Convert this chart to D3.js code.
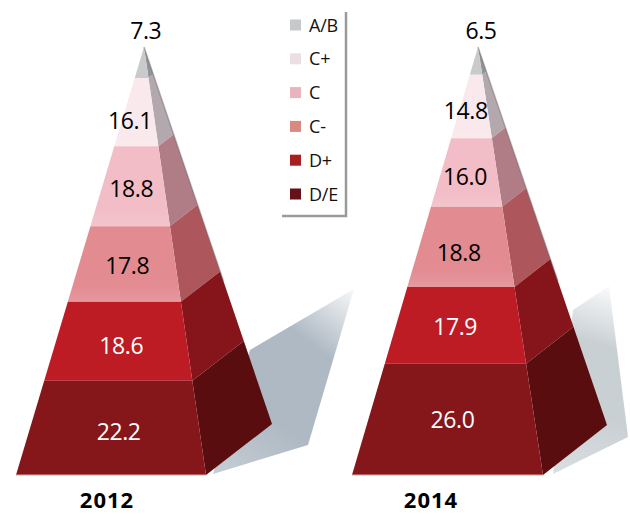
<!DOCTYPE html>
<html>
<head>
<meta charset="utf-8">
<script src="https://cdn.jsdelivr.net/npm/d3@7"></script>
<style>
  html, body { margin: 0; padding: 0; background: #fff; }
  text { font-family: "Open Sans", "Noto Sans", sans-serif; }
</style>
</head>
<body>
<div id="chart"></div>
<script>
const grades = ["A/B", "C+", "C", "C-", "D+", "D/E"];
const values2012 = [7.3, 16.1, 18.8, 17.8, 18.6, 22.2];
const values2014 = [6.5, 14.8, 16.0, 18.8, 17.9, 26.0];

const frontColors = ["#c8cacb", "#f9e8ec", "#f2bdc6", "#e28b91", "#bd1c25", "#85171b"];
const sideColors = ["#8f9498", "#b2a8ad", "#b07c85", "#ad575d", "#85151a", "#590d0e"];
const legendColors = ["#c6c8c9", "#ecdfe3", "#e9b4bd", "#d98a80", "#a5201f", "#641218"];
const labelColors = ["#000", "#000", "#000", "#000", "#fff", "#fff"];

const canvasWidth = 630;
const canvasHeight = 514;

// outline of each pyramid, and hand nudges for the value labels
const pyramids = [
  {
    year: "2012", values: values2012, yearX: 107,
    apex: [144, 47], left: [16, 475], right: [206, 475], back: [272, 424],
    shadow: [[213, 474], [308, 445], [354, 289], [250, 350]],
    shadowColor: "#aeb9c3",
    nudge: [[3, -8], [-9, 17], [-2, 11], [0, 10], [0, 13], [4, 12]]
  },
  {
    year: "2014", values: values2014, yearX: 431,
    apex: [478, 47], left: [352, 475], right: [543, 475], back: [607, 425],
    shadow: [[553, 474], [628, 437], [609, 286], [573, 310]],
    shadowColor: "#c9d0d4",
    nudge: [[4, -8], [-8, 13], [-4, 13], [-5, 14], [-3, 10], [1, 9]]
  }
];

const svg = d3.select("#chart")
  .append("svg")
  .attr("width", canvasWidth)
  .attr("height", canvasHeight);

const defs = svg.append("defs");

defs.append("filter").attr("id", "soft")
  .append("feGaussianBlur").attr("stdDeviation", 0.5);

// lighter strip at the foot of the pale front bands
const sheen = defs.append("linearGradient").attr("id", "sheen")
  .attr("x1", 0).attr("y1", 0).attr("x2", 0).attr("y2", 1);
sheen.append("stop").attr("offset", "78%").attr("stop-color", "#fff").attr("stop-opacity", 0);
sheen.append("stop").attr("offset", "100%").attr("stop-color", "#fff").attr("stop-opacity", 0.12);

const line = d3.line();

pyramids.forEach((p, i) => {
  const g = svg.append("g");

  // shadow fades out to the top right
  const gradId = "shade" + i;
  const grad = defs.append("linearGradient").attr("id", gradId)
    .attr("gradientUnits", "userSpaceOnUse")
    .attr("x1", p.shadow[0][0]).attr("y1", p.shadow[0][1])
    .attr("x2", p.shadow[2][0]).attr("y2", p.shadow[2][1]);
  grad.append("stop").attr("offset", "0%").attr("stop-color", p.shadowColor).attr("stop-opacity", 0.7);
  grad.append("stop").attr("offset", "35%").attr("stop-color", p.shadowColor);
  grad.append("stop").attr("offset", "70%").attr("stop-color", p.shadowColor);
  grad.append("stop").attr("offset", "100%").attr("stop-color", p.shadowColor).attr("stop-opacity", 0.1);

  g.append("path")
    .attr("d", line(p.shadow) + "Z")
    .attr("fill", `url(#${gradId})`)
    .attr("filter", "url(#soft)");

  const total = d3.sum(p.values);
  const share = d3.scaleLinear().domain([0, total]).range([0, 1]);
  // array ranges reuse the output array, so keep one scale per coordinate
  const edge = (end) => {
    const ex = d3.scaleLinear().domain([0, 1]).range([p.apex[0], end[0]]);
    const ey = d3.scaleLinear().domain([0, 1]).range([p.apex[1], end[1]]);
    return t => [ex(t), ey(t)];
  };
  const leftEdge = edge(p.left);
  const rightEdge = edge(p.right);
  const backEdge = edge(p.back);

  const cumulative = d3.cumsum(p.values);
  const bands = p.values.map((v, j) => ({
    value: v,
    index: j,
    t0: share(cumulative[j] - v),
    t1: share(cumulative[j])
  }));

  g.selectAll(".side")
    .data(bands)
    .enter()
    .append("path")
    .attr("class", "side")
    .attr("d", d => line([rightEdge(d.t0), backEdge(d.t0), backEdge(d.t1), rightEdge(d.t1)]) + "Z")
    .attr("fill", d => sideColors[d.index]);

  g.selectAll(".front")
    .data(bands)
    .enter()
    .append("path")
    .attr("class", "front")
    .attr("d", d => line([leftEdge(d.t0), rightEdge(d.t0), rightEdge(d.t1), leftEdge(d.t1)]) + "Z")
    .attr("fill", d => frontColors[d.index]);

  g.selectAll(".sheen")
    .data(bands.slice(1, 4))
    .enter()
    .append("path")
    .attr("class", "sheen")
    .attr("d", d => line([leftEdge(d.t0), rightEdge(d.t0), rightEdge(d.t1), leftEdge(d.t1)]) + "Z")
    .attr("fill", "url(#sheen)");

  // dark outer edge of the side face
  g.append("path")
    .attr("d", line([p.apex, backEdge(0.62)]))
    .attr("stroke", "#6d6266")
    .attr("stroke-opacity", 0.45)
    .attr("stroke-width", 1.5)
    .attr("fill", "none");

  // pale line along the base
  g.append("path")
    .attr("d", line([p.left, p.right]))
    .attr("stroke", "#e3a6a6")
    .attr("stroke-width", 1.2);

  g.selectAll(".value")
    .data(bands)
    .enter()
    .append("text")
    .attr("class", "value")
    .attr("x", d => {
      const mid = (d.t0 + d.t1) / 2;
      return (leftEdge(mid)[0] + rightEdge(mid)[0]) / 2 + p.nudge[d.index][0];
    })
    .attr("y", d => {
      const mid = (d.t0 + d.t1) / 2;
      return d.index === 0 ? p.apex[1] + p.nudge[0][1] : leftEdge(mid)[1] + p.nudge[d.index][1];
    })
    .attr("text-anchor", "middle")
    .attr("font-size", 23)
    .attr("letter-spacing", -0.4)
    .attr("fill", d => labelColors[d.index])
    .text(d => d.value.toFixed(1));

  svg.append("text")
    .attr("x", p.yearX)
    .attr("y", 507.5)
    .attr("text-anchor", "middle")
    .attr("font-size", 22)
    .attr("font-weight", 700)
    .attr("letter-spacing", 1)
    .attr("fill", "#000")
    .text(p.year);
});

// legend
const legendY = d3.scalePoint().domain(grades).range([25, 194]);
const legend = svg.append("g");

legend.append("path")
  .attr("d", line([[346, 12], [346, 216], [282, 216]]))
  .attr("stroke", "#9a9a9a")
  .attr("stroke-width", 2.5)
  .attr("fill", "none")
  .attr("filter", "url(#soft)");

legend.selectAll("rect")
  .data(grades)
  .enter()
  .append("rect")
  .attr("x", 290)
  .attr("y", d => legendY(d) - 5.5)
  .attr("width", 11)
  .attr("height", 11)
  .attr("fill", (d, i) => legendColors[i]);

legend.selectAll("text")
  .data(grades)
  .enter()
  .append("text")
  .attr("x", 309)
  .attr("y", d => legendY(d) + 6.5)
  .attr("font-size", 18)
  .attr("letter-spacing", -0.2)
  .attr("fill", "#111")
  .text(d => d);
</script>
</body>
</html>
